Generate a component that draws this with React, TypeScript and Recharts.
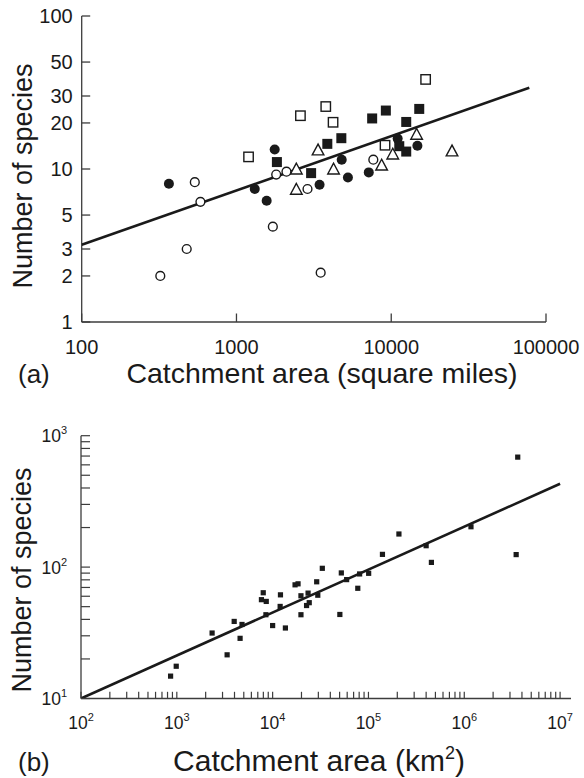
import { ScatterChart, Scatter, XAxis, YAxis } from "recharts";

const INK = "#1a1a1a";
const AXIS = "#3c3c3c";
const FONT = "'Liberation Sans', Arial, sans-serif";

// (a) catchment area (square miles) vs number of species, one array per symbol
const filledCirclesA = [
  { area: 366, species: 8.0 },
  { area: 1313, species: 7.4 },
  { area: 1766, species: 13.4 },
  { area: 1567, species: 6.2 },
  { area: 3443, species: 7.9 },
  { area: 4786, species: 11.5 },
  { area: 5250, species: 8.8 },
  { area: 7160, species: 9.5 },
  { area: 11000, species: 15.8 },
  { area: 14760, species: 14.2 },
];

const openCirclesA = [
  { area: 322, species: 2.0 },
  { area: 477, species: 3.0 },
  { area: 538, species: 8.2 },
  { area: 585, species: 6.1 },
  { area: 1718, species: 4.2 },
  { area: 1806, species: 9.2 },
  { area: 2104, species: 9.6 },
  { area: 2877, species: 7.4 },
  { area: 3500, species: 2.1 },
  { area: 7660, species: 11.5 },
];

const openSquaresA = [
  { area: 1197, species: 12.0 },
  { area: 2590, species: 22.3 },
  { area: 3776, species: 25.6 },
  { area: 4209, species: 20.2 },
  { area: 9120, species: 14.3 },
  { area: 16680, species: 38.5 },
];

const filledSquaresA = [
  { area: 1825, species: 11.1 },
  { area: 3036, species: 9.4 },
  { area: 3864, species: 14.6 },
  { area: 4760, species: 15.9 },
  { area: 7530, species: 21.4 },
  { area: 9230, species: 24.1 },
  { area: 12500, species: 20.3 },
  { area: 15170, species: 24.7 },
  { area: 11270, species: 14.1 },
  { area: 12500, species: 13.0 },
];

const trianglesA = [
  { area: 2437, species: 9.9 },
  { area: 2437, species: 7.3 },
  { area: 3366, species: 13.2 },
  { area: 4240, species: 9.9 },
  { area: 8670, species: 10.5 },
  { area: 10230, species: 12.4 },
  { area: 14590, species: 16.7 },
  { area: 24700, species: 13.0 },
];

const fitA = [
  { area: 100, species: 3.2 },
  { area: 78000, species: 34 },
];

const xTicksA = [100, 1000, 10000, 100000];
const yTicksA = [1, 2, 3, 5, 10, 20, 30, 50, 100];

// (b) catchment area (km2) vs number of species
const riversB = [
  { area: 861, species: 14.8 },
  { area: 986, species: 17.6 },
  { area: 2335, species: 31.5 },
  { area: 3350, species: 21.5 },
  { area: 3970, species: 38.6 },
  { area: 4575, species: 28.7 },
  { area: 4790, species: 36.6 },
  { area: 7640, species: 56.5 },
  { area: 7980, species: 63.8 },
  { area: 8580, species: 54.8 },
  { area: 8510, species: 43.4 },
  { area: 10000, species: 35.9 },
  { area: 11980, species: 50.2 },
  { area: 12070, species: 61.5 },
  { area: 13590, species: 34.4 },
  { area: 17140, species: 73.3 },
  { area: 18420, species: 74.6 },
  { area: 19750, species: 60.5 },
  { area: 19750, species: 43.4 },
  { area: 22600, species: 51.0 },
  { area: 23440, species: 63.4 },
  { area: 24100, species: 53.6 },
  { area: 28830, species: 77.3 },
  { area: 29600, species: 61.1 },
  { area: 33000, species: 97.9 },
  { area: 50300, species: 43.6 },
  { area: 52100, species: 90.3 },
  { area: 59200, species: 80.3 },
  { area: 77400, species: 69.0 },
  { area: 80900, species: 88.7 },
  { area: 100500, species: 89.7 },
  { area: 140000, species: 125 },
  { area: 208000, species: 178.6 },
  { area: 400000, species: 145.5 },
  { area: 454000, species: 108.6 },
  { area: 1175000, species: 202.8 },
  { area: 3480000, species: 124.5 },
  { area: 3614000, species: 687 },
];

const fitB = [
  { area: 100, species: 10 },
  { area: 10000000, species: 431 },
];

const decadesXB = [100, 1000, 10000, 100000, 1000000];
const decadesYB = [10, 100];
const mantissas = [1, 2, 3, 4, 5, 6, 7, 8, 9];
const xTicksB = [...decadesXB.flatMap((d) => mantissas.map((m) => m * d)), 10000000];
const yTicksB = [...decadesYB.flatMap((d) => mantissas.map((m) => m * d)), 1000];

const isPow10 = (v: number) => {
  const l = Math.log10(v);
  return Math.abs(l - Math.round(l)) < 1e-9;
};

// marker shapes
const OpenCircle = (p: any) => (
  <circle cx={p.cx} cy={p.cy} r={4.4} fill="#fff" stroke={INK} strokeWidth={1.4} />
);
const FilledCircle = (p: any) => <circle cx={p.cx} cy={p.cy} r={5} fill={INK} />;
const OpenSquare = (p: any) => (
  <rect x={p.cx - 4.7} y={p.cy - 4.7} width={9.4} height={9.4} fill="#fff" stroke={INK} strokeWidth={1.4} />
);
const FilledSquare = (p: any) => (
  <rect x={p.cx - 5} y={p.cy - 5} width={10} height={10} fill={INK} />
);
const OpenTriangle = (p: any) => (
  <polygon
    points={`${p.cx},${p.cy - 6.5} ${p.cx - 5.8},${p.cy + 4.3} ${p.cx + 5.8},${p.cy + 4.3}`}
    fill="#fff"
    stroke={INK}
    strokeWidth={1.4}
    strokeLinejoin="miter"
  />
);
const SmallSquare = (p: any) => (
  <rect x={p.cx - 2.6} y={p.cy - 2.6} width={5.2} height={5.2} fill={INK} />
);
const NoMark = () => <g />;

// ticks drawn inward from the axis, labels outside
const XTickA = (props: any) => {
  const { x, y, payload } = props;
  return (
    <g>
      <line x1={x} y1={y} x2={x} y2={y - 8.5} stroke={AXIS} strokeWidth={1.3} />
      <text x={x} y={y + 32} textAnchor="middle" fontSize={20} fontFamily={FONT} fill={INK}>
        {payload.value}
      </text>
    </g>
  );
};

const YTickA = (props: any) => {
  const { x, y, payload } = props;
  return (
    <g>
      <line x1={x} y1={y} x2={x + 8.5} y2={y} stroke={AXIS} strokeWidth={1.3} />
      <text x={x - 9} y={y + 7} textAnchor="end" fontSize={20} fontFamily={FONT} fill={INK}>
        {payload.value}
      </text>
    </g>
  );
};

const XTickB = (props: any) => {
  const { x, y, payload } = props;
  const v = payload.value;
  return (
    <g>
      <line x1={x} y1={y} x2={x} y2={y - 6.7} stroke={AXIS} strokeWidth={1.2} />
      {isPow10(v) && (
        <text x={x} y={y + 30} textAnchor="middle" fontSize={17.5} fontFamily={FONT} fill={INK}>
          10
          <tspan dy={-8} fontSize={11}>
            {Math.round(Math.log10(v))}
          </tspan>
        </text>
      )}
    </g>
  );
};

const YTickB = (props: any) => {
  const { x, y, payload } = props;
  const v = payload.value;
  return (
    <g>
      <line x1={x} y1={y} x2={x + 9} y2={y} stroke={AXIS} strokeWidth={1.2} />
      {isPow10(v) && (
        <text x={x - 14} y={y + 6.5} textAnchor="end" fontSize={17.5} fontFamily={FONT} fill={INK}>
          10
          <tspan dy={-8} fontSize={11}>
            {Math.round(Math.log10(v))}
          </tspan>
        </text>
      )}
    </g>
  );
};

const axisLine = { stroke: AXIS, strokeWidth: 1.3 };
const fitLine = { stroke: INK, strokeWidth: 2.6 };

export default function App() {
  return (
    <div
      style={{
        position: "absolute",
        left: 0,
        top: 0,
        width: 584,
        height: 778,
        background: "#fff",
        fontFamily: FONT,
      }}
    >
      <div style={{ position: "absolute", left: 0, top: 0 }}>
        <ScatterChart width={584} height={360} margin={{ top: 16, right: 38, left: 0, bottom: 0 }}>
          <XAxis
            type="number"
            dataKey="area"
            scale="log"
            domain={[100, 100000]}
            allowDataOverflow
            ticks={xTicksA}
            interval={0}
            tick={<XTickA />}
            tickLine={false}
            tickSize={0}
            tickMargin={0}
            axisLine={axisLine}
            height={38}
          />
          <YAxis
            type="number"
            dataKey="species"
            scale="log"
            domain={[1, 100]}
            allowDataOverflow
            ticks={yTicksA}
            interval={0}
            tick={<YTickA />}
            tickLine={false}
            tickSize={0}
            tickMargin={0}
            axisLine={axisLine}
            width={81.7}
          />
          <Scatter data={fitA} line={fitLine} shape={NoMark} isAnimationActive={false} />
          <Scatter data={openCirclesA} shape={OpenCircle} isAnimationActive={false} />
          <Scatter data={filledCirclesA} shape={FilledCircle} isAnimationActive={false} />
          <Scatter data={openSquaresA} shape={OpenSquare} isAnimationActive={false} />
          <Scatter data={filledSquaresA} shape={FilledSquare} isAnimationActive={false} />
          <Scatter data={trianglesA} shape={OpenTriangle} isAnimationActive={false} />
        </ScatterChart>
      </div>

      <div style={{ position: "absolute", left: 0, top: 400 }}>
        <ScatterChart width={584} height={340} margin={{ top: 35.7, right: 13, left: 0, bottom: 0 }}>
          <XAxis
            type="number"
            dataKey="area"
            scale="log"
            domain={[100, 13000000]}
            allowDataOverflow
            ticks={xTicksB}
            interval={0}
            tick={<XTickB />}
            tickLine={false}
            tickSize={0}
            tickMargin={0}
            axisLine={axisLine}
            height={41.5}
          />
          <YAxis
            type="number"
            dataKey="species"
            scale="log"
            domain={[10, 1000]}
            allowDataOverflow
            ticks={yTicksB}
            interval={0}
            tick={<YTickB />}
            tickLine={false}
            tickSize={0}
            tickMargin={0}
            axisLine={axisLine}
            width={81}
          />
          <Scatter data={fitB} line={fitLine} shape={NoMark} isAnimationActive={false} />
          <Scatter data={riversB} shape={SmallSquare} isAnimationActive={false} />
        </ScatterChart>
      </div>

      <svg
        width={584}
        height={778}
        style={{ position: "absolute", left: 0, top: 0, pointerEvents: "none" }}
        fontFamily={FONT}
        fill={INK}
      >
        <text x={18} y={383} fontSize={26}>(a)</text>
        <text x={322} y={383} fontSize={28.5} textAnchor="middle">
          Catchment area (square miles)
        </text>
        <text transform="translate(32,176) rotate(-90)" fontSize={27} textAnchor="middle">
          Number of species
        </text>

        <text x={18} y={771} fontSize={26}>(b)</text>
        <text x={319} y={771} fontSize={30} textAnchor="middle">
          Catchment area (km
          <tspan dy={-12} fontSize={18}>2</tspan>
          <tspan dy={12}>)</tspan>
        </text>
        <text transform="translate(31,580) rotate(-90)" fontSize={27} textAnchor="middle">
          Number of species
        </text>
      </svg>
    </div>
  );
}
